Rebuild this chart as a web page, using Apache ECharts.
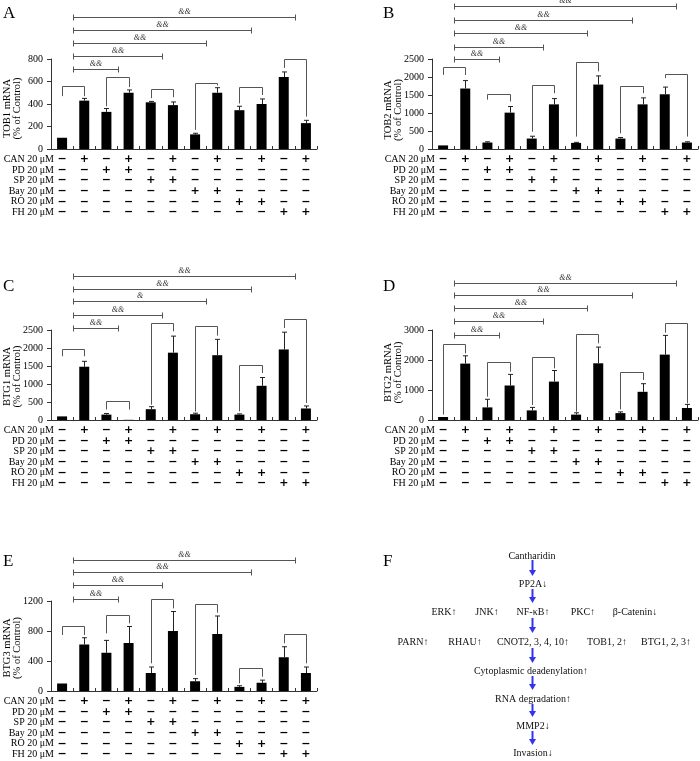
<!DOCTYPE html>
<html><head><meta charset="utf-8">
<script src="https://cdn.jsdelivr.net/npm/echarts@6/dist/echarts.min.js"></script>
<style>html,body{margin:0;padding:0;background:#fff}#chart{width:700px;height:761px}</style>
</head><body><div id="chart"></div>
<script>
// ---------- data ----------
const categories = ['Control','CAN','PD','CAN+PD','SP','CAN+SP','Bay','CAN+Bay','RO','CAN+RO','FH','CAN+FH'];
const rowLabels = ['CAN 20 μM','PD 20 μM','SP 20 μM','Bay 20 μM','RO 20 μM','FH 20 μM'];
const rowSigns = ['-+-+-+-+-+-+','--++--------','----++------','------++----','--------++--','----------++'];

// A: TOB1
const tob1Mean = [100,430,330,500,415,390,130,500,345,400,640,230];
const tob1Err  = [0,20,30,25,8,28,10,45,35,45,45,25];
const tob1Brackets = [[0,1,560,470,470],[2,3,640,380,550],[4,5,532,452,460],[6,7,586,170,565],[8,9,550,405,480],[10,11,800,720,288]];
const tob1SigY = [710,826,944,1060,1176];
const tob1SigEnd = [2,4,6,8,10];
const tob1SigText = ['&&','&&','&&','&&','&&'];
const tob1Ticks = [0,200,400,600,800];

// B: TOB2
const tob2Mean = [100,1680,180,1010,290,1240,170,1790,290,1240,1520,180];
const tob2Err  = [0,220,20,170,65,160,15,240,30,180,200,20];
const tob2Brackets = [[0,1,2268,2060,2055],[2,3,1524,1370,1320],[4,5,1766,480,1550],[6,7,2416,345,2156],[8,9,1747,437,1552],[10,11,2091,1970,345]];
const tob2SigY = [2500,2845,3215,3590,3970];
const tob2SigEnd = [2,4,6,8,10];
const tob2SigText = ['&&','&&','&&','&&','&&'];
const tob2Ticks = [0,500,1000,1500,2000,2500];

// C: BTG1
const btg1Mean = [100,1480,150,5,300,1870,160,1800,150,950,1960,320];
const btg1Err  = [0,150,30,0,70,460,30,440,20,230,480,70];
const btg1Brackets = [[0,1,1981,1770,1770],[2,3,519,290,290],[4,5,2694,425,2463],[6,7,2602,240,2343],[8,9,1518,240,1305],[10,11,2815,2556,472]];
const btg1SigY = [2565,2926,3296,3639,4009];
const btg1SigEnd = [2,4,6,8,10];
const btg1SigText = ['&&','&&','&','&&','&&'];
const btg1Ticks = [0,500,1000,1500,2000,2500];

// D: BTG2
const btg2Mean = [100,1880,420,1150,320,1280,180,1890,230,940,2180,400];
const btg2Err  = [0,260,270,370,100,370,60,540,40,270,640,120];
const btg2Brackets = [[0,1,2544,180,2222],[2,3,1922,778,1611],[4,5,2111,500,1722],[6,7,2856,278,2556],[8,9,1611,356,1333],[10,11,3222,2911,556]];
const btg2SigY = [2844,3289,3722,4156,4578];
const btg2SigEnd = [2,4,6,8,10];
const btg2SigText = ['&&','&&','&&','&&','&&'];
const btg2Ticks = [0,1000,2000,3000];

// E: BTG3
const btg3Mean = [100,620,510,640,240,800,130,760,55,110,450,240];
const btg3Err  = [0,90,165,220,80,260,35,240,15,35,140,80];
const btg3Brackets = [[0,1,867,747,747],[2,3,1009,769,902],[4,5,1227,369,1102],[6,7,1160,213,1044],[8,9,302,102,191],[10,11,756,636,369]];
const btg3SigY = [1227,1409,1582,1751];
const btg3SigEnd = [2,4,8,10];
const btg3SigText = ['&&','&&','&&','&&'];
const btg3Ticks = [0,400,800,1200];

// F: pathway text
const pathRows = [
  ['Cantharidin'],
  ['PP2A↓'],
  ['ERK↑','JNK↑','NF-κB↑','PKC↑','β-Catenin↓'],
  ['PARN↑','RHAU↑','CNOT2, 3, 4, 10↑','TOB1, 2↑','BTG1, 2, 3↑'],
  ['Cytoplasmic deadenylation↑'],
  ['RNA degradation↑'],
  ['MMP2↓'],
  ['Invasion↓']
];

// ---------- layout ----------
const SERIF = "'Liberation Serif','Times New Roman',serif";
const panels = [
  {letter:'A', name:'TOB1 mRNA', mean:tob1Mean, err:tob1Err, br:tob1Brackets, sy:tob1SigY, se:tob1SigEnd, st:tob1SigText, ticks:tob1Ticks, left:51, top:59, nameY:108.5},
  {letter:'B', name:'TOB2 mRNA', mean:tob2Mean, err:tob2Err, br:tob2Brackets, sy:tob2SigY, se:tob2SigEnd, st:tob2SigText, ticks:tob2Ticks, left:432, top:59, nameY:110},
  {letter:'C', name:'BTG1 mRNA', mean:btg1Mean, err:btg1Err, br:btg1Brackets, sy:btg1SigY, se:btg1SigEnd, st:btg1SigText, ticks:btg1Ticks, left:51, top:330, nameY:376.5},
  {letter:'D', name:'BTG2 mRNA', mean:btg2Mean, err:btg2Err, br:btg2Brackets, sy:btg2SigY, se:btg2SigEnd, st:btg2SigText, ticks:btg2Ticks, left:432, top:330, nameY:372.5},
  {letter:'E', name:'BTG3 mRNA', mean:btg3Mean, err:btg3Err, br:btg3Brackets, sy:btg3SigY, se:btg3SigEnd, st:btg3SigText, ticks:btg3Ticks, left:51, top:601, nameY:648}
];
const GW = 266, GH = 90;
const letterPos = {A:[3,5], B:[383,5], C:[3,278], D:[383,278], E:[3,553], F:[383,553]};

const grids = [], xAxes = [], yAxes = [], series = [], graphics = [];

panels.forEach((p, k) => {
  grids.push({left:p.left, top:p.top, width:GW, height:GH, containLabel:false});
  const tk = p.ticks;
  xAxes.push({
    type:'category', gridIndex:k, data:categories, boundaryGap:true,
    axisLine:{show:true, lineStyle:{color:'#333', width:1}},
    axisTick:{show:true, inside:true, length:3, interval:0, lineStyle:{color:'#333'}},
    axisLabel:{interval:0, margin:5, color:'#000', fontFamily:"'DejaVu Sans',sans-serif",
      fontWeight:'bold', fontSize:11, lineHeight:10.6,
      formatter:(v, idx) => rowSigns.map(r => r[idx] === '+' ? '+' : '−').join('\n')}
  });
  yAxes.push({
    type:'value', gridIndex:k, min:0, max:tk[tk.length-1], interval:tk[1]-tk[0],
    axisLine:{show:true, lineStyle:{color:'#333', width:1}},
    axisTick:{show:true, length:4, lineStyle:{color:'#333'}},
    splitLine:{show:false},
    axisLabel:{color:'#000', fontFamily:SERIF, fontSize:10, margin:8, formatter:v => String(v)}
  });
  series.push({
    type:'bar', xAxisIndex:k, yAxisIndex:k, data:p.mean, barWidth:10,
    itemStyle:{color:'#000'}, silent:true, animation:false
  });
  // error bars
  series.push({
    type:'custom', xAxisIndex:k, yAxisIndex:k, silent:true, animation:false, clip:false, z:3,
    data:p.mean.map((m,i) => [i, m, p.err[i]]),
    renderItem:(params, api) => {
      const i = api.value(0), m = api.value(1), e = api.value(2);
      if (!(e > 0)) return null;
      const b = api.coord([i, m]), t = api.coord([i, m + e]);
      const x = Math.round(b[0]) + 0.5;
      return {type:'group', children:[
        {type:'line', shape:{x1:x, y1:b[1], x2:x, y2:t[1]}, style:{stroke:'#222', lineWidth:1}},
        {type:'line', shape:{x1:x-2.5, y1:t[1], x2:x+2.5, y2:t[1]}, style:{stroke:'#222', lineWidth:1}}
      ]};
    }
  });
  // brackets
  series.push({
    type:'custom', xAxisIndex:k, yAxisIndex:k, silent:true, animation:false, clip:false, z:3,
    data:p.br,
    renderItem:(params, api) => {
      const i = api.value(0), j = api.value(1), top = api.value(2), l = api.value(3), r = api.value(4);
      const a = api.coord([i, top]), bL = api.coord([i, l]), c = api.coord([j, top]), bR = api.coord([j, r]);
      const xa = Math.round(a[0]) + 0.5, xc = Math.round(c[0]) + 0.5, yt = Math.round(a[1]) + 0.5;
      return {type:'polyline', shape:{points:[[xa, bL[1]], [xa, yt], [xc, yt], [xc, bR[1]]]},
        style:{stroke:'#555', lineWidth:1, fill:null}};
    }
  });
  // significance lines
  series.push({
    type:'custom', xAxisIndex:k, yAxisIndex:k, silent:true, animation:false, clip:false, z:3,
    data:p.sy.map((y, n) => [0, y, p.se[n]]),
    renderItem:(params, api) => {
      const s = api.value(0), y = api.value(1), e = api.value(2);
      const c0 = api.coord([0, 0])[0], bw = api.coord([1, 0])[0] - c0;
      const xs = Math.round(c0 + (s + 0.5) * bw) + 0.5, xe = Math.round(c0 + (e + 0.5) * bw) + 0.5;
      const yy = Math.round(api.coord([0, y])[1]) + 0.5;
      return {type:'group', children:[
        {type:'line', shape:{x1:xs, y1:yy, x2:xe, y2:yy}, style:{stroke:'#555', lineWidth:1}},
        {type:'line', shape:{x1:xs, y1:yy-3, x2:xs, y2:yy+3}, style:{stroke:'#555', lineWidth:1}},
        {type:'line', shape:{x1:xe, y1:yy-3, x2:xe, y2:yy+3}, style:{stroke:'#555', lineWidth:1}},
        {type:'text', x:(xs+xe)/2, y:yy-2, style:{text:p.st[params.dataIndex], align:'center', verticalAlign:'bottom',
          fontSize:8, fontStyle:'italic', fontFamily:SERIF, fill:'#333'}}
      ]};
    }
  });
  // row labels of the treatment table
  rowLabels.forEach((lab, r) => {
    graphics.push({type:'text', x:p.left + 3, y:p.top + GH + 10.3 + r * 10.6, silent:true,
      style:{text:lab, align:'right', verticalAlign:'middle', fontSize:10, fontFamily:SERIF, fill:'#000'}});
  });
  // y axis name
  graphics.push({type:'text', x:p.left - 38.5, y:p.nameY, rotation:Math.PI/2, silent:true,
    style:{text:p.name + '\n(% of Control)', align:'center', verticalAlign:'middle', lineHeight:10,
      fontSize:10.5, fontFamily:SERIF, fill:'#000'}});
});

// panel letters
Object.keys(letterPos).forEach(L => {
  graphics.push({type:'text', x:letterPos[L][0], y:letterPos[L][1], silent:true,
    style:{text:L, fontSize:17, fontFamily:SERIF, fill:'#000', align:'left', verticalAlign:'top'}});
});

// panel F layout
const fRowY = [556, 584, 612, 642, 671, 699, 726, 753];
const fRowX = [[532],[533],[444,487,533,583,635],[413,465,533,607,666],[531],[533],[533],[533]];
pathRows.forEach((row, r) => {
  row.forEach((t, c) => {
    graphics.push({type:'text', x:fRowX[r][c], y:fRowY[r], silent:true,
      style:{text:t, align:'center', verticalAlign:'middle', fontSize:10, fontFamily:SERIF, fill:'#111'}});
  });
});
const arrows = [[560,576],[589,603],[618,633],[648,663],[676,690],[704,717],[731,745]];
const AX = 532.5, BLUE = '#3434f0';
arrows.forEach(a => {
  graphics.push({type:'line', silent:true, shape:{x1:AX, y1:a[0], x2:AX, y2:a[1]-4}, style:{stroke:BLUE, lineWidth:2}});
  graphics.push({type:'polygon', silent:true, shape:{points:[[AX-3.5, a[1]-6],[AX+3.5, a[1]-6],[AX, a[1]]]}, style:{fill:BLUE}});
});

const chart = echarts.init(document.getElementById('chart'), null, {renderer:'canvas'});
chart.setOption({
  animation:false,
  backgroundColor:'#fff',
  grid:grids, xAxis:xAxes, yAxis:yAxes, series:series,
  graphic:{elements:graphics}
});
</script>
</body></html>
